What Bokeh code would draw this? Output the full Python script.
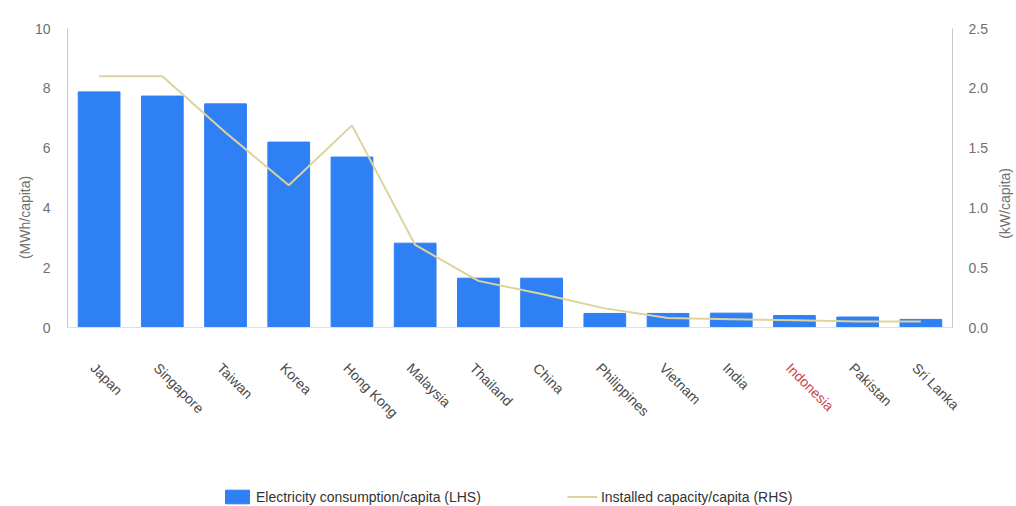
import math
from bokeh.plotting import figure
from bokeh.models import (Range1d, LinearAxis, FixedTicker, Legend, LegendItem,
                          PrintfTickFormatter, ColumnDataSource)
from bokeh.core.properties import value
from bokeh.embed import file_html
from bokeh.resources import INLINE

countries = ["Japan", "Singapore", "Taiwan", "Korea", "Hong Kong", "Malaysia", "Thailand",
             "China", "Philippines", "Vietnam", "India", "Indonesia", "Pakistan", "Sri Lanka"]
consumption = [7.88, 7.74, 7.48, 6.2, 5.7, 2.82, 1.65, 1.65, 0.47, 0.47, 0.48, 0.4, 0.35, 0.27]
capacity = [2.1, 2.1, 1.63, 1.19, 1.69, 0.69, 0.39, 0.28, 0.16, 0.08, 0.07, 0.06, 0.05, 0.05]
left_ticks = [0, 2, 4, 6, 8, 10]
right_ticks = [0, 0.5, 1.0, 1.5, 2.0, 2.5]
highlight = "Indonesia"
left_title = "(MWh/capita)"
right_title = "(kW/capita)"

FONT = "Liberation Sans"
W, H = 1016, 506
idx = list(range(len(countries)))
n = len(countries)
LEFT_MAX, RIGHT_MAX = 10, 2.5

# layout of the chart area in page pixels (axes drawn at fixed positions inside the frame)
AX_L, AX_R, AX_T, AX_B = 67, 952, 28, 327
px_x = (AX_R - AX_L) / n
px_y = (AX_B - AX_T) / LEFT_MAX
x_lo = -0.5 - AX_L / px_x
x_hi = n - 0.5 + (W - AX_R) / px_x
y_lo = -(H - AX_B) / px_y
y_hi = LEFT_MAX + AX_T / px_y
k = RIGHT_MAX / LEFT_MAX

p = figure(width=W, height=H, output_backend="svg", toolbar_location=None,
           x_range=Range1d(x_lo, x_hi), y_range=Range1d(y_lo, y_hi),
           min_border=0)
p.outline_line_color = None
p.xgrid.grid_line_color = None
p.ygrid.grid_line_color = None
p.background_fill_color = "white"
p.extra_y_ranges = {"right": Range1d(y_lo * k, y_hi * k)}

bars = p.vbar(x=idx, top=consumption, width=0.66, color="#2f7ff5", line_color="#2f7ff5")
line = p.line(x=idx, y=capacity, y_range_name="right", line_color="#ddd39c", line_width=2)

# x axis: baseline only
xa = p.xaxis[0]
xa.fixed_location = 0
xa.bounds = (-0.5, n - 0.5)
xa.ticker = FixedTicker(ticks=[])
xa.axis_line_color = "#e0e0e0"
xa.major_tick_line_color = None
xa.minor_tick_line_color = None

# left axis
ya = p.yaxis[0]
ya.fixed_location = -0.5
ya.ticker = FixedTicker(ticks=left_ticks)
ya.bounds = (0, LEFT_MAX)
ya.axis_line_color = "#c8c8c8"
ya.major_tick_line_color = None
ya.minor_tick_line_color = None
ya.major_label_text_font = FONT
ya.major_label_text_font_size = "14px"
ya.major_label_text_color = "#707070"
ya.major_label_standoff = 11

ra = LinearAxis(y_range_name="right", ticker=FixedTicker(ticks=right_ticks),
                formatter=PrintfTickFormatter(format="%.1f"), bounds=(0, RIGHT_MAX),
                fixed_location=n - 0.5)
ra.axis_line_color = "#c8c8c8"
ra.major_tick_line_color = None
ra.minor_tick_line_color = None
ra.major_label_text_font = FONT
ra.major_label_text_font_size = "14px"
ra.major_label_text_color = "#707070"
ra.major_label_standoff = 10
p.add_layout(ra, "right")

# axis titles
p.text(x=[-1.18], y=[3.68], text=[left_title], angle=math.pi / 2, text_align="center",
       text_baseline="middle", text_font=value(FONT), text_font_size="14px", text_color="#707070")
p.text(x=[14.33], y=[4.15], text=[right_title], angle=math.pi / 2, text_align="center",
       text_baseline="middle", text_font=value(FONT), text_font_size="14px", text_color="#707070")

# category labels
src = ColumnDataSource(dict(x=idx, y=[-1.27] * n, text=countries,
                            color=["#cc4848" if c == highlight else "#4a4a4a" for c in countries]))
p.text(x="x", y="y", text="text", source=src, angle=-math.pi / 4, text_align="left",
       text_baseline="middle", x_offset=-6, text_font=value(FONT), text_font_size="14px",
       text_color="color")

legend = Legend(items=[LegendItem(label="Electricity consumption/capita (LHS)", renderers=[bars]),
                       LegendItem(label="Installed capacity/capita (RHS)", renderers=[line])],
                orientation="horizontal", location=(222, 1), spacing=86,
                glyph_width=30, glyph_height=17, label_height=17, label_standoff=4,
                label_text_font=FONT, label_text_font_size="14px", label_text_color="#333333",
                border_line_color=None, background_fill_alpha=0, padding=0, margin=0)
p.add_layout(legend, "center")

open("out.html", "w").write(file_html(p, INLINE))
